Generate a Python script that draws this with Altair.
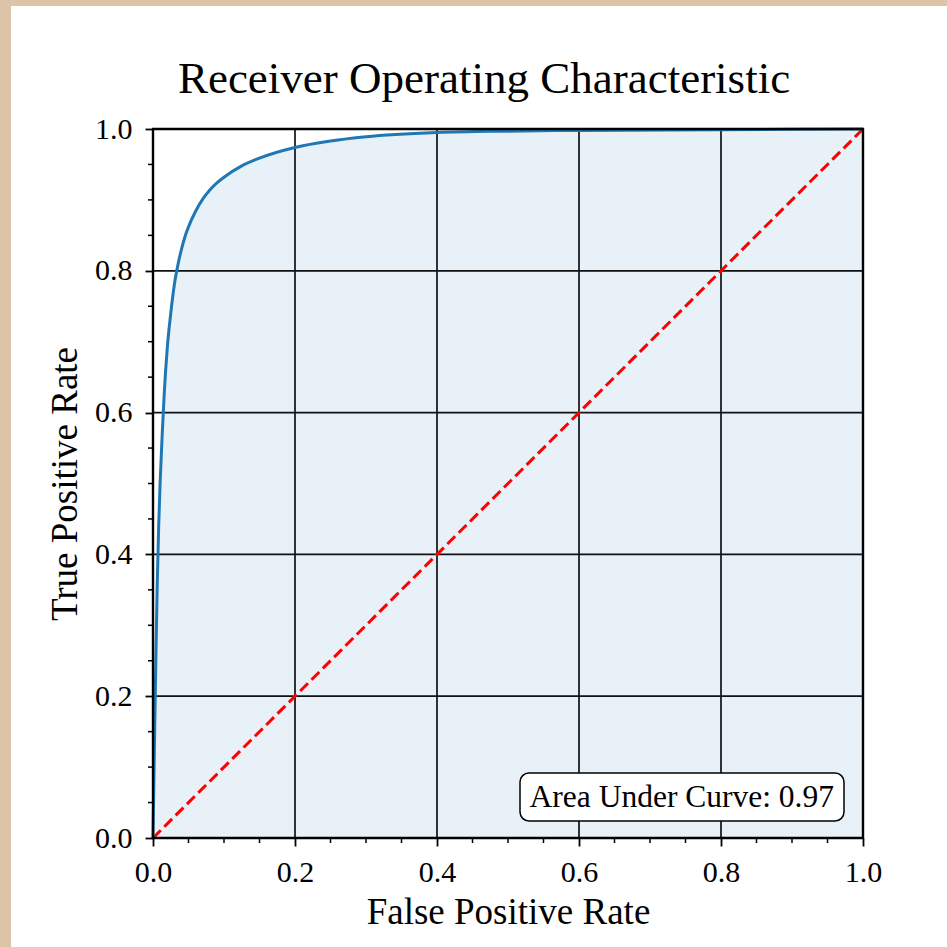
import altair as alt
import pandas as pd

# ROC curve samples (false positive rate -> true positive rate)
fpr = [0.0, 0.002, 0.004, 0.006, 0.008, 0.010, 0.013, 0.016, 0.020, 0.025,
       0.030, 0.035, 0.040, 0.045, 0.050, 0.060, 0.070, 0.080, 0.090, 0.100,
       0.125, 0.150, 0.200, 0.250, 0.300, 0.400, 0.500, 0.600, 0.800, 1.000]
tpr = [0.0, 0.13, 0.25, 0.36, 0.44, 0.50, 0.57, 0.63, 0.69, 0.74,
       0.78, 0.808, 0.830, 0.848, 0.862, 0.884, 0.901, 0.914, 0.924, 0.932,
       0.948, 0.959, 0.974, 0.983, 0.989, 0.995, 0.997, 0.998, 0.999, 1.0]

chance = [0.0, 1.0]
major_ticks = [0.0, 0.2, 0.4, 0.6, 0.8, 1.0]
minor_ticks = [0.05, 0.10, 0.15, 0.25, 0.30, 0.35, 0.45, 0.50, 0.55,
               0.65, 0.70, 0.75, 0.85, 0.90, 0.95]
auc_value = 0.97

title_text = "Receiver Operating Characteristic"
x_label = "False Positive Rate"
y_label = "True Positive Rate"

FONT = "Liberation Serif"
W, H = 710, 709

xs = alt.Scale(domain=[0, 1], nice=False, zero=False)
ys = alt.Scale(domain=[0, 1], nice=False, zero=False)

common_axis = dict(
    values=major_ticks, format=".1f", grid=False, domain=False, zindex=1,
    tickSize=8, tickWidth=1.8, tickColor="black",
    labelFont=FONT, labelFontSize=30, labelColor="black", labelFlush=False,
    titleFont=FONT, titleFontSize=37, titleFontWeight="normal", titleColor="black",
)
x_axis = alt.Axis(
    labelPadding=11, title=x_label,
    titleX=355, titleY=85, titleBaseline="alphabetic", titleAlign="center",
    **common_axis,
)
y_axis = alt.Axis(
    labelPadding=13, title=y_label,
    titleX=-88, titleY=354.5, titleAngle=270,
    titleBaseline="middle", titleAlign="center",
    **common_axis,
)


def X(field):
    return alt.X(field, scale=xs, axis=x_axis)


def Y(field):
    return alt.Y(field, scale=ys, axis=y_axis)


roc = pd.DataFrame({"fpr": fpr, "tpr": tpr})
diag = pd.DataFrame({"fpr": chance, "tpr": chance})
grid = pd.DataFrame({"v": major_ticks})
minor = pd.DataFrame({"v": minor_ticks})
one = pd.DataFrame({"k": [0]})

# white card behind the figure
card = alt.Chart(one).mark_rect(fill="white").encode(
    x=alt.value(-142), x2=alt.value(794), y=alt.value(-123), y2=alt.value(818)
)

area = alt.Chart(roc).mark_area(
    color="#1f77b4", opacity=0.1, interpolate="monotone"
).encode(x=X("fpr:Q"), y=Y("tpr:Q"))

vgrid = alt.Chart(grid).mark_rule(color="#111111", strokeWidth=1.7).encode(
    x=X("v:Q")
)
hgrid = alt.Chart(grid).mark_rule(color="#111111", strokeWidth=1.7).encode(
    y=Y("v:Q")
)

xminor = alt.Chart(minor).mark_rule(color="black", strokeWidth=1.5).encode(
    x=X("v:Q"), y=alt.value(H), y2=alt.value(H + 5)
)
yminor = alt.Chart(minor).mark_rule(color="black", strokeWidth=1.5).encode(
    y=Y("v:Q"), x=alt.value(-5), x2=alt.value(0)
)

chance_line = alt.Chart(diag).mark_line(
    color="red", strokeWidth=3, strokeDash=[11, 5]
).encode(x=X("fpr:Q"), y=Y("tpr:Q"))

curve = alt.Chart(roc).mark_line(
    color="#1f77b4", strokeWidth=3, interpolate="monotone"
).encode(x=X("fpr:Q"), y=Y("tpr:Q"))

frame = alt.Chart(one).mark_rect(fill=None, stroke="black", strokeWidth=2.4).encode(
    x=alt.datum(0, scale=xs, axis=x_axis), x2=alt.datum(1),
    y=alt.datum(0, scale=ys, axis=y_axis), y2=alt.datum(1),
)

auc_df = pd.DataFrame({"label": [f"Area Under Curve: {auc_value:.2f}"]})
auc_box = alt.Chart(auc_df).mark_rect(
    fill="white", stroke="black", strokeWidth=1.5, cornerRadius=9
).encode(x=alt.value(367), x2=alt.value(691), y=alt.value(644), y2=alt.value(692))
auc_text = alt.Chart(auc_df).mark_text(
    font=FONT, fontSize=31.5, color="black", align="right", baseline="middle"
).encode(x=alt.value(681), y=alt.value(669), text="label:N")

title_df = pd.DataFrame({"title": [title_text]})
title = alt.Chart(title_df).mark_text(
    font=FONT, fontSize=45, color="black", align="center", baseline="alphabetic"
).encode(x=alt.value(331), y=alt.value(-36), text="title:N")

chart = alt.layer(
    card, area, vgrid, hgrid, xminor, yminor, chance_line, curve, frame,
    auc_box, auc_text, title,
).properties(
    width=W, height=H,
    autosize=alt.AutoSizeParams(type="none"),
    padding={"left": 153, "top": 129, "right": 84, "bottom": 109},
    background="#dcc4a9",
).configure_view(
    fill="white", stroke=None
)

chart.save("out.html", embed_options={"renderer": "svg", "actions": False})
